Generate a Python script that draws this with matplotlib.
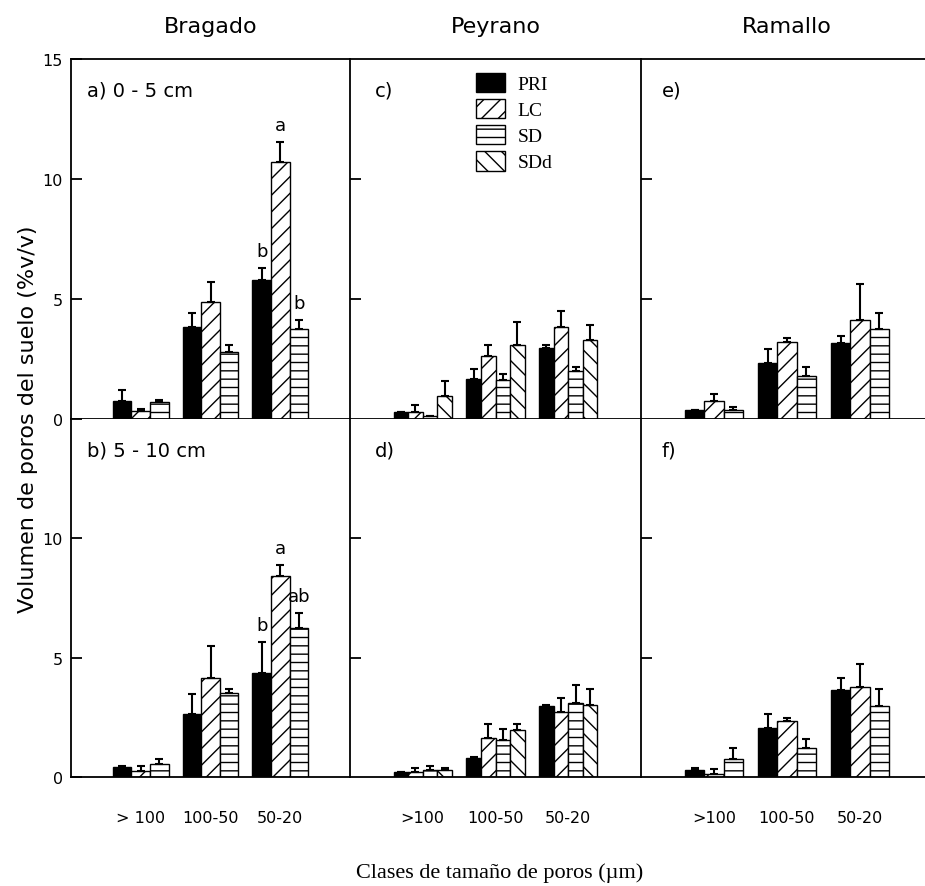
import numpy as np
import matplotlib
matplotlib.use("Agg")
import matplotlib.pyplot as plt

plt.rcParams["font.family"] = ["DejaVu Sans"]
plt.rcParams["hatch.linewidth"] = 1.0

# pore size classes (µm)
categories = ["> 100", "100-50", "50-20"]
categories_short = [">100", "100-50", "50-20"]
sites = ["Bragado", "Peyrano", "Ramallo"]
treatments = ["PRI", "LC", "SD", "SDd"]

# 0 - 5 cm
bragado_top = {"PRI": [0.76, 3.85, 5.79], "LC": [0.32, 4.86, 10.72], "SD": [0.72, 2.78, 3.75]}
bragado_top_err = {"PRI": [0.45, 0.57, 0.50], "LC": [0.08, 0.83, 0.81], "SD": [0.07, 0.30, 0.38]}
peyrano_top = {"PRI": [0.28, 1.67, 2.94], "LC": [0.28, 2.64, 3.85], "SD": [0.12, 1.64, 2.01], "SDd": [0.97, 3.08, 3.29]}
peyrano_top_err = {"PRI": [0.03, 0.41, 0.14], "LC": [0.30, 0.44, 0.64], "SD": [0.0, 0.24, 0.14], "SDd": [0.60, 0.95, 0.63]}
ramallo_top = {"PRI": [0.37, 2.33, 3.15], "LC": [0.76, 3.22, 4.13], "SD": [0.37, 1.81, 3.77]}
ramallo_top_err = {"PRI": [0.02, 0.59, 0.30], "LC": [0.28, 0.17, 1.50], "SD": [0.14, 0.35, 0.63]}

# 5 - 10 cm
bragado_bot = {"PRI": [0.42, 2.65, 4.37], "LC": [0.24, 4.16, 8.44], "SD": [0.53, 3.53, 6.25]}
bragado_bot_err = {"PRI": [0.03, 0.82, 1.28], "LC": [0.22, 1.32, 0.44], "SD": [0.24, 0.17, 0.61]}
peyrano_bot = {"PRI": [0.21, 0.81, 2.97], "LC": [0.21, 1.65, 2.72], "SD": [0.31, 1.56, 3.10], "SDd": [0.31, 1.98, 3.03]}
peyrano_bot_err = {"PRI": [0.02, 0.04, 0.06], "LC": [0.18, 0.55, 0.61], "SD": [0.15, 0.46, 0.76], "SDd": [0.07, 0.22, 0.67]}
ramallo_bot = {"PRI": [0.31, 2.05, 3.63], "LC": [0.14, 2.34, 3.77], "SD": [0.77, 1.21, 2.96]}
ramallo_bot_err = {"PRI": [0.07, 0.60, 0.53], "LC": [0.21, 0.14, 0.95], "SD": [0.44, 0.37, 0.71]}

# significance letters on the 50-20 class in Bragado
letters_top = {"PRI": "b", "LC": "a", "SD": "b"}
letters_bot = {"PRI": "b", "LC": "a", "SD": "ab"}

panel_labels = [["a) 0 - 5 cm", "c)", "e)"], ["b) 5 - 10 cm", "d)", "f)"]]

styles = {
    "PRI": dict(facecolor="black", hatch=None),
    "LC": dict(facecolor="white", hatch="//"),
    "SD": dict(facecolor="white", hatch="--"),
    "SDd": dict(facecolor="white", hatch="\\\\"),
}

W, H = 925, 887
fig = plt.figure(figsize=(W / 100, H / 100), dpi=100)


def px_axes(x0, y0, x1, y1):
    return fig.add_axes([x0 / W, 1 - y1 / H, (x1 - x0) / W, (y1 - y0) / H])


col_x = [(71, 350), (350, 641), (641, 933)]
row_y = [(60, 420), (420, 778)]
data = [[(bragado_top, bragado_top_err), (peyrano_top, peyrano_top_err), (ramallo_top, ramallo_top_err)],
        [(bragado_bot, bragado_bot_err), (peyrano_bot, peyrano_bot_err), (ramallo_bot, ramallo_bot_err)]]
label_dx = [16, 25, 21]

x = np.arange(len(categories))
legend_handles = None

for r in range(2):
    for c in range(3):
        ax = px_axes(col_x[c][0], row_y[r][0], col_x[c][1], row_y[r][1])
        vals, errs = data[r][c]
        names = [t for t in treatments if t in vals]
        n = len(names)
        width = 0.8 / n
        handles = []
        for i, name in enumerate(names):
            pos = x + (i - (n - 1) / 2) * width
            st = styles[name]
            b = ax.bar(pos, vals[name], width, color=st["facecolor"], edgecolor="black",
                       linewidth=1.0, hatch=st["hatch"], label=name)
            handles.append(b)
            ax.errorbar(pos, vals[name], yerr=[np.zeros(len(x)), errs[name]], fmt="none",
                        ecolor="black", elinewidth=1.5, capsize=3, capthick=1.5)
            if c == 0:
                letters = letters_top if r == 0 else letters_bot
                if name in letters:
                    top = vals[name][2] + errs[name][2]
                    ax.annotate(letters[name], (pos[2], top), xytext=(0, 6),
                                textcoords="offset points", ha="center", va="bottom", fontsize=13)
        if r == 0 and c == 1:
            legend_handles = handles

        ax.set_xlim(-1, 3)
        ax.set_ylim(0, 15)
        ax.spines["right"].set_visible(False)
        if r == 1:
            ax.spines["top"].set_visible(False)
        for s in ax.spines.values():
            s.set_linewidth(1.3)

        ax.tick_params(axis="y", direction="in", length=8, width=1.3, labelsize=11.5, pad=6)
        if c == 0:
            ax.set_yticks([0, 5, 10, 15])
            ax.set_yticklabels(["0", "5", "10", "15" if r == 0 else ""])
        else:
            ax.set_yticks([5, 10])
            ax.set_yticklabels([])

        if r == 1:
            ax.set_xticks(x)
            ax.set_xticklabels(categories if c == 0 else categories_short, fontsize=11.5)
            ax.tick_params(axis="x", length=0, pad=24)
        else:
            ax.set_xticks([])

        fig.text((col_x[c][0] + label_dx[c]) / W, 1 - (row_y[r][0] + 31) / H,
                 panel_labels[r][c], fontsize=14, ha="left", va="center")

for c, site in enumerate(sites):
    fig.text((col_x[c][0] + col_x[c][1]) / 2 / W, 1 - 27 / H, site, fontsize=16,
             ha="center", va="center")

fig.legend(handles=legend_handles, labels=treatments, loc="upper left",
           bbox_to_anchor=(476 / W, 1 - 74 / H), frameon=False, borderpad=0,
           borderaxespad=0, handlelength=1.5, handleheight=1.15, labelspacing=0.3,
           handletextpad=0.65, prop={"family": "Liberation Serif", "size": 14})

fig.text(28 / W, 1 - 419 / H, "Volumen de poros del suelo (%v/v)", rotation=90,
         fontsize=16, ha="center", va="center")
fig.text(500 / W, 1 - 873 / H, "Clases de tamaño de poros (µm)", fontsize=16,
         family="Liberation Serif", ha="center", va="center")

fig.savefig("out.png", dpi=100)
